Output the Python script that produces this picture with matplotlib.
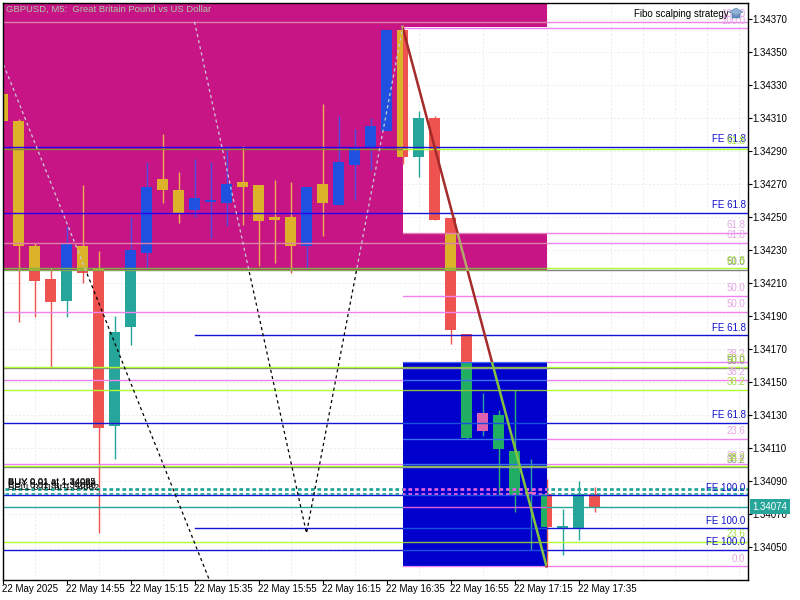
import matplotlib
matplotlib.use("Agg")
import matplotlib.pyplot as plt
from matplotlib.patches import Polygon, Rectangle

plt.rcParams["font.family"] = ["Liberation Sans", "DejaVu Sans"]

# candles, prices in points (1.34370 -> 134370)
opens = [134324, 134308, 134232, 134212, 134199, 134232, 134219, 134123, 134183, 134228,
         134273, 134266, 134254, 134259, 134258, 134271, 134269, 134250, 134250, 134232,
         134270, 134257, 134281, 134292, 134302, 134363, 134286, 134310, 134249, 134179,
         134120, 134130, 134108, 134082, 134082, 134061, 134061, 134082]
highs = [134325, 134309, 134234, 134219, 134244, 134269, 134229, 134190, 134250, 134283,
         134300, 134277, 134285, 134283, 134293, 134293, 134269, 134272, 134271, 134268,
         134318, 134311, 134303, 134310, 134363, 134365, 134314, 134311, 134249, 134179,
         134143, 134133, 134145, 134103, 134091, 134073, 134090, 134086]
lows = [134308, 134186, 134189, 134158, 134189, 134210, 134058, 134103, 134172, 134218,
        134258, 134246, 134250, 134237, 134244, 134245, 134220, 134222, 134216, 134218,
        134238, 134257, 134260, 134278, 134302, 134282, 134274, 134248, 134173, 134115,
        134117, 134081, 134071, 134048, 134038, 134045, 134054, 134071]
closes = [134308, 134232, 134211, 134198, 134234, 134216, 134122, 134180, 134230, 134268,
          134266, 134252, 134261, 134259, 134270, 134268, 134247, 134248, 134232, 134268,
          134258, 134283, 134292, 134305, 134363, 134286, 134310, 134248, 134181, 134116,
          134131, 134109, 134081, 134082, 134062, 134062, 134082, 134074]

time_labels = ["22 May 2025", "22 May 14:55", "22 May 15:15", "22 May 15:35", "22 May 15:55",
               "22 May 16:15", "22 May 16:35", "22 May 16:55", "22 May 17:15", "22 May 17:35"]
time_bars = [0, 4, 8, 12, 16, 20, 24, 28, 32, 36]
price_ticks = [134370, 134350, 134330, 134310, 134290, 134270, 134250, 134230, 134210,
               134190, 134170, 134150, 134130, 134110, 134090, 134070, 134050]

# level, first bar, kind, label
levels = [
    (134368, -1, "pink", "100.0"), (134364, 25, "pink", "100.0"),
    (134292, -1, "blue", "FE 61.8"), (134291, -1, "green", "61.8"),
    (134252, -1, "blue", "FE 61.8"),
    (134240, 25, "pink", "61.8"), (134234, -1, "pink", "61.8"),
    (134217.5, -1, "grey", "50.0"), (134218.5, -1, "green2", "61.8"),
    (134202, 25, "pink", "50.0"), (134192, -1, "pink", "50.0"),
    (134178, 12, "blue", "FE 61.8"),
    (134162, 25, "pink", "38.2"),
    (134158, -1, "grey", "50.0"), (134159, -1, "green", "50.0"),
    (134151, -1, "pink", "38.2"), (134145, -1, "green", "38.2"),
    (134125, -1, "blue", "FE 61.8"),
    (134115, 25, "pink", "23.6"),
    (134098, -1, "grey", "38.2"), (134100, -1, "pink", "38.2"), (134099, -1, "green", "38.2"),
    (134081, -1, "blue", "FE 100.0"),
    (134061, 12, "blue", "FE 100.0"),
    (134053, -1, "green", "23.6"),
    (134048, -1, "blue", "FE 100.0"),
    (134038, 25, "pink", "0.0"),
]
order_levels = [134085, 134084, 134082]
order_texts = [(134086, "BUY 0.01 at 1.34085"), (134085, "BUY 0.01 at 1.34084"),
               (134083.5, "BUY 0.01 at 1.34086"), (134082, "SELL 0.01 at 1.34082")]
last_price = 134074

zigzag1_x, zigzag1_y = [-1, 13], [134368, 134028]
zigzag2_x, zigzag2_y = [12, 19, 25], [134368, 134058, 134364]
fibo_x, fibo_y = [25, 34], [134365, 134038]

magenta_x = [-2, 34, 34, 25, 25, 34, 34, -2]
magenta_y = [134385, 134385, 134365, 134365, 134240, 134240, 134217, 134217]
blue_x = [25, 34, 34, 25]
blue_y = [134162, 134162, 134038, 134038]

# colours: plain chart, inside magenta zone, inside blue zone
RED = ("#ef5350", "#dcb22a", "#1fae62")
TEAL = ("#26a69a", "#2050e0", "#e060b0")
WICK_RED = ("#ef5350", "#f0b050", "#2fb070")
WICK_TEAL = ("#26a69a", "#4a50e0", "#30a0a0")
LINE = {
    "pink": ("#ee82ee", "#e080a8", "#3a70f0"),
    "blue": ("#1414d8", "#2a00f0", "#1a50e0"),
    "green": ("#adff2f", "#8a8a30", "#86c040"),
    "green2": ("#adff2f", "#7cb342", "#86c040"),
    "grey": ("#808080", "#7cb342", "#a0a0a0"),
}
LABEL = {"pink": "#e6a6e6", "blue": "#1010cc", "green": "#a6e040", "green2": "#a6e040", "grey": "#909090"}
TITLE_COL = "#a8c8a8"


def py(p):
    return p / 100000.0


fig = plt.figure(figsize=(8, 6), dpi=100)
ax = fig.add_axes([2.5 / 800, 1 - 579.5 / 600, 745 / 800, 577 / 600])
ax.set_xlim(0, 745 / 16)
ax.set_ylim(py(134030), py(134379.7))

magenta = Polygon(list(zip(magenta_x, map(py, magenta_y))), fc="#c71585", ec="none", zorder=3)
blue = Polygon(list(zip(blue_x, map(py, blue_y))), fc="#0000cd", ec="none", zorder=3)
ax.add_patch(magenta)
ax.add_patch(blue)


def layered_line(x, y, cols, **kw):
    ys = [py(v) for v in y]
    ax.plot(x, ys, color=cols[0], zorder=2.5, **kw)
    for col, zone in ((cols[1], magenta), (cols[2], blue)):
        line, = ax.plot(x, ys, color=col, zorder=4.5, **kw)
        line.set_clip_path(zone)


# candles
for i in range(len(opens)):
    up = closes[i] >= opens[i]
    body = TEAL if up else RED
    wick = WICK_TEAL if up else WICK_RED
    top = max(opens[i], closes[i])
    bot = min(opens[i], closes[i])
    height = max(top - bot, 1.2)
    for col, wcol, zone, z in ((body[0], wick[0], None, 2), (body[1], wick[1], magenta, 4),
                               (body[2], wick[2], blue, 4)):
        w, = ax.plot([i, i], [py(lows[i]), py(highs[i])], color=wcol, lw=1, zorder=z,
                     solid_capstyle="butt")
        b = Rectangle((i - 5.5 / 16, py(bot)), 11 / 16, py(height), fc=col, ec="none", zorder=z + 0.1)
        ax.add_patch(b)
        if zone is not None:
            w.set_clip_path(zone)
            b.set_clip_path(zone)

# levels
for price, start, kind, text in levels:
    layered_line([start, 47], [price, price], LINE[kind], lw=1)
    ax.annotate(text, xy=(745 / 16 - 2 / 16, py(price)), xytext=(0, 2), textcoords="offset points",
                ha="right", va="bottom", fontsize=7, color=LABEL[kind], zorder=6)

for price in order_levels:
    layered_line([-1, 47], [price, price], ("#26a69a", "#2050e0", "#e060e0"), lw=1.3, ls=(0, (2, 1.6)))
for price, text in order_texts:
    ax.annotate(text, xy=(6 / 16, py(price)), xytext=(0, 1), textcoords="offset points",
                ha="left", va="bottom", fontsize=6.8, color="black", zorder=6)

layered_line([-1, 47], [last_price, last_price], ("#26a69a", "#2050e0", "#e060e0"), lw=1)

# zigzags and fibo line
dash = (0, (2.5, 2.5))
layered_line(zigzag1_x, zigzag1_y, ("black", "#c8ccd8", "#c8ccd8"), lw=0.9, ls=dash)
layered_line(zigzag2_x, zigzag2_y, ("black", "#c8ccd8", "#c8ccd8"), lw=0.9, ls=dash)
layered_line(fibo_x, fibo_y, ("#a52a2a", "#b4a96c", "#84c341"), lw=1.8)

# axes furniture
ax.set_xticks(time_bars)
ax.set_xticklabels(time_labels, ha="left", fontsize=7)
ax.set_xticks(range(0, 47, 2), minor=True)
ax.set_yticks([py(p) for p in price_ticks])
ax.set_yticklabels(["%.5f" % py(p) for p in price_ticks], fontsize=7)
ax.yaxis.tick_right()
ax.tick_params(axis="both", which="major", length=3, width=0.8, pad=0.5)
ax.tick_params(axis="x", which="minor", length=0)
ax.grid(True, which="minor", axis="x", color="#ececec", lw=0.7, ls=(0, (2, 2)), zorder=1)
ax.grid(True, which="major", axis="y", color="#ececec", lw=0.7, ls=(0, (2, 2)), zorder=1)
ax.set_axisbelow(True)
for s in ax.spines.values():
    s.set_linewidth(1)
    s.set_zorder(8)

fig.text(6 / 800, 1 - 9.5 / 600, "GBPUSD, M5:  Great Britain Pound vs US Dollar", fontsize=6.8,
         color=TITLE_COL, va="center", ha="left", zorder=9)
fig.text(634 / 800, 1 - 14 / 600, "Fibo scalping strategy", fontsize=7, color="black",
         va="center", ha="left", zorder=9)

# little cap icon next to the strategy name
cap_top = [(729, 12), (736, 8), (743, 12), (736, 15)]
cap_low = [(732, 14), (736, 16), (740, 14), (740, 18), (732, 18)]
for pts, col in ((cap_low, "#5f8fc0"), (cap_top, "#8fb4d8")):
    fig.add_artist(Polygon([(a / 800, 1 - b / 600) for a, b in pts], transform=fig.transFigure,
                           fc=col, ec="#5078a8", lw=0.4, zorder=9))

ax.annotate("%.5f" % py(last_price), xy=(1, py(last_price)), xycoords=ax.get_yaxis_transform(),
            xytext=(3.6, 0), textcoords="offset points", fontsize=7, color="white",
            va="center", ha="left", zorder=9, annotation_clip=False,
            bbox=dict(fc="#26a69a", ec="none", boxstyle="square,pad=0.25"))

fig.savefig("out.png", dpi=100)
